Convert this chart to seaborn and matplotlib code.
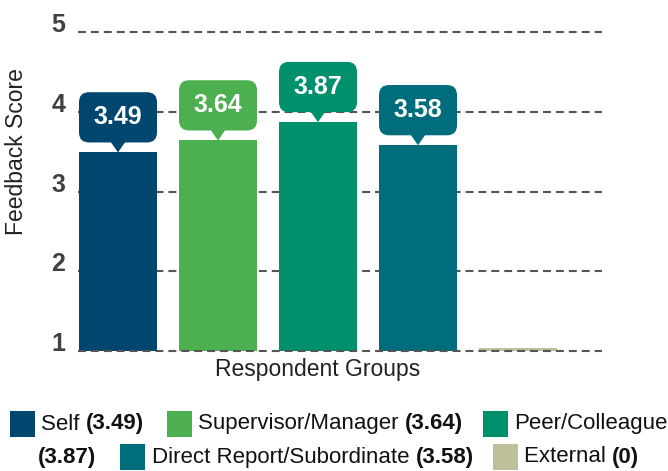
import matplotlib.pyplot as plt
import seaborn as sns
from matplotlib.patches import FancyBboxPatch, Polygon, Rectangle

# data
groups = ["Self", "Supervisor/Manager", "Peer/Colleague", "Direct Report/Subordinate", "External"]
scores = [3.49, 3.64, 3.87, 3.58, 0]
colors = ["#00466e", "#4caf50", "#00906c", "#006d7c", "#bfbf9b"]
yticks = [1, 2, 3, 4, 5]

plt.rcParams["font.family"] = ["Liberation Sans", "DejaVu Sans"]

W, H = 668, 471
fig = plt.figure(figsize=(W / 100, H / 100), dpi=100)
ax = fig.add_axes([78 / W, 120 / H, 524 / W, 319 / H])

# a zero score still shows as a thin stub on the baseline
shown = [max(s, 1.04) for s in scores]
sns.barplot(x=groups, y=shown, hue=groups, palette=colors, saturation=1,
            width=0.78, legend=False, ax=ax, zorder=2)

ax.set_xlim(-0.4, 4.84)
ax.set_ylim(1, 5)
ax.set_xticks([])
ax.set_yticks(yticks)
for s in ax.spines.values():
    s.set_visible(False)
ax.tick_params(axis="y", length=0, pad=9, labelsize=18, labelcolor="#404040")
for lab in ax.get_yticklabels():
    lab.set_fontweight("bold")
    lab.set_va("baseline")

# dashed gridlines, the baseline one drawn on top of the bars
for t in yticks:
    ax.axhline(t, color="#555555", lw=1.5, ls=(0, (3.8, 2.4)),
               zorder=3 if t == yticks[0] else 0.5, clip_on=False)

ax.set_ylabel("Feedback Score", fontsize=16.5, color="#222222")
ax.yaxis.set_label_coords(-0.095, 0.624)
ax.set_xlabel("Respondent Groups", fontsize=16.5, color="#222222")
ax.xaxis.set_label_coords(0.458, -0.022)

# callout boxes above the bars
fig.canvas.draw()
bb = ax.get_window_extent()
aspect = (bb.width / 5.24) / (bb.height / 4.0)
for i, (s, c) in enumerate(zip(scores, colors)):
    if s <= 0:
        continue
    bottom = s + 0.125
    height = 0.63
    ax.add_patch(FancyBboxPatch((i - 0.39, bottom), 0.78, height,
                                boxstyle="round,pad=0,rounding_size=0.1",
                                mutation_aspect=aspect, fc=c, ec="none",
                                zorder=4, clip_on=False))
    ax.add_patch(Polygon([(i - 0.075, bottom + 0.01), (i + 0.075, bottom + 0.01), (i, s)],
                         closed=True, fc=c, ec="none", zorder=4, clip_on=False))
    ax.text(i, bottom + height / 2, f"{s:.2f}", ha="center", va="center",
            color="white", fontsize=18, fontweight="bold", zorder=5)


# legend drawn by hand so it wraps like the original
def fxy(px, py):
    return px / W, 1 - py / H


def square(x, y, color):
    fig.patches.append(Rectangle(fxy(x, y + 13), 25 / W, 26 / H,
                                 transform=fig.transFigure, fc=color, ec="none"))


def label(x, y, name, value):
    t = fig.text(*fxy(x, y), name + " " if value else name, fontsize=16,
                 va="center", ha="left", color="#111111")
    if value:
        ax.annotate(value, xy=(1, 0.5), xycoords=t, va="center", ha="left",
                    fontsize=16, fontweight="bold", color="#111111")
    return t


vals = [f"({s:g})" for s in scores]
row1, row2 = 424, 457
square(10, row1, colors[0])
label(41, row1, groups[0], vals[0])
square(167, row1, colors[1])
label(198, row1, groups[1], vals[1])
square(483, row1, colors[2])
label(514, row1, groups[2], None)
fig.text(*fxy(38, row2), vals[2], fontsize=16, fontweight="bold",
         va="center", ha="left", color="#111111")
square(120, row2, colors[3])
label(152, row2, groups[3], vals[3])
square(493, row2, colors[4])
label(524, row2, groups[4], vals[4])

fig.savefig("out.png", dpi=100)
